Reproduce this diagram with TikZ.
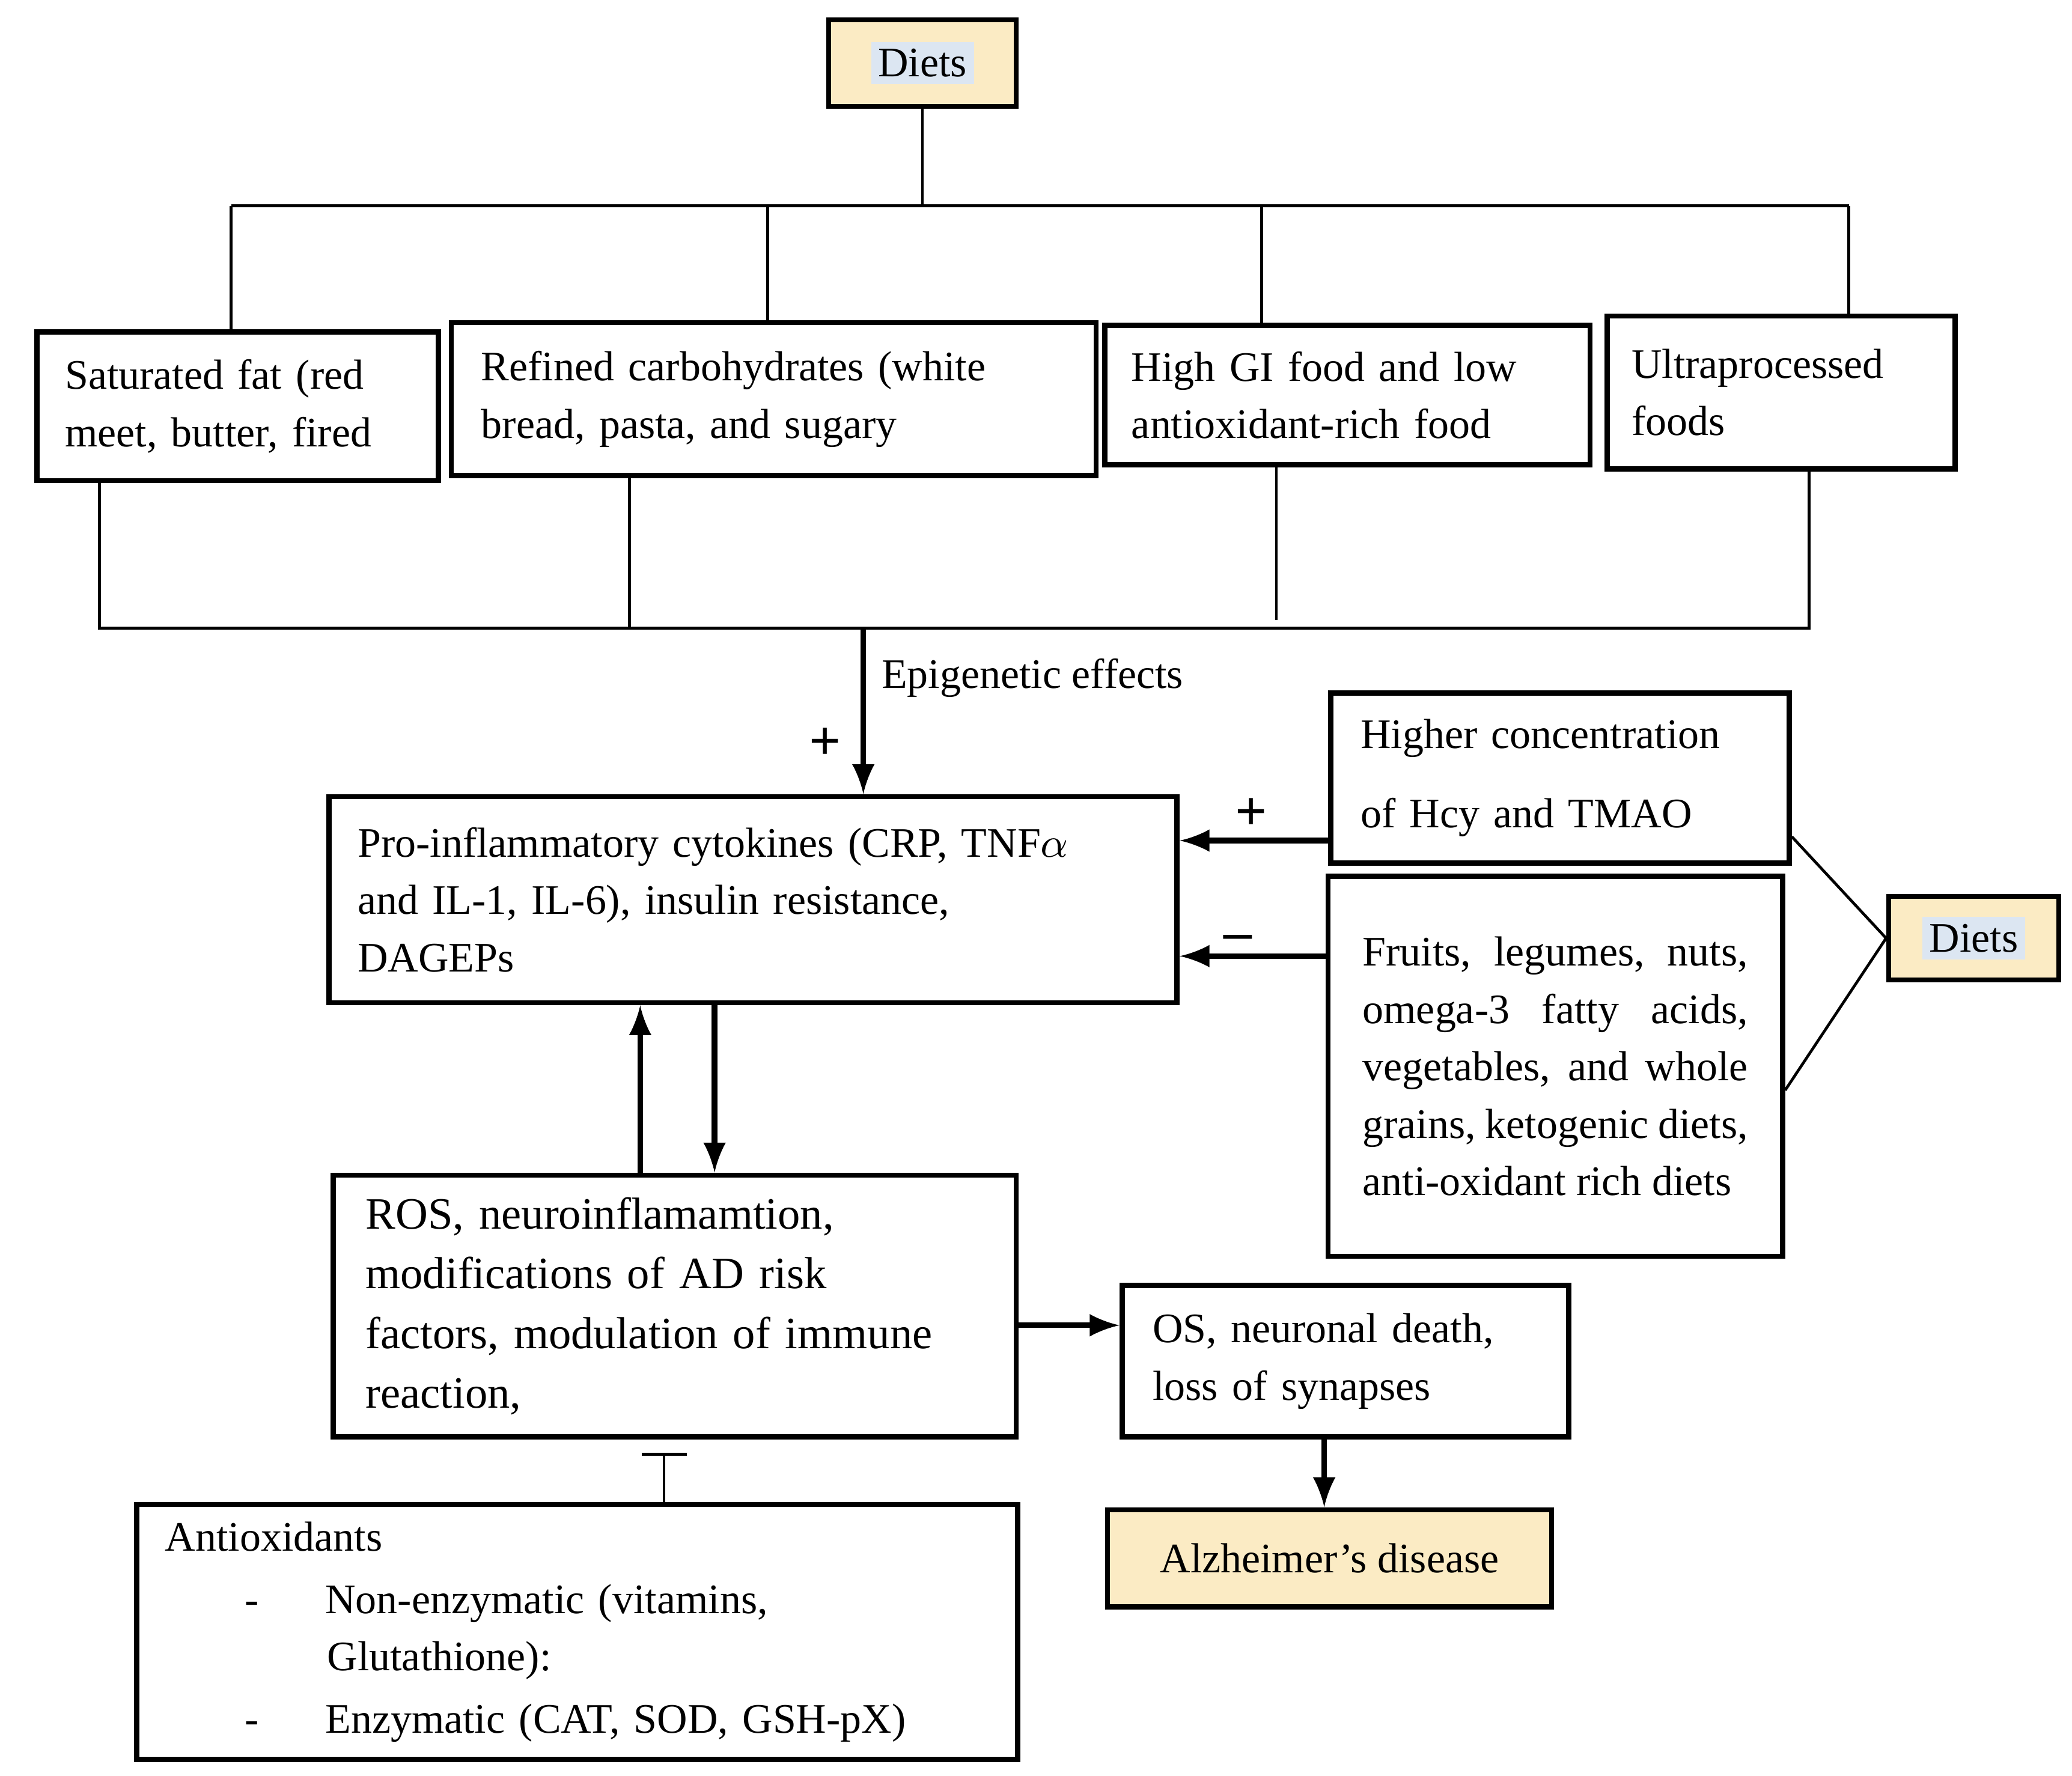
\documentclass[tikz,border=0pt]{standalone}
\usepackage{fontspec}
\setmainfont{Liberation Serif}
\usetikzlibrary{arrows}
\definecolor{dietfill}{HTML}{FBEBC4}
\definecolor{hlblue}{HTML}{DCE6F2}
\newcommand{\hl}[1]{{\setlength{\fboxsep}{1.5pt}\colorbox{hlblue}{#1}}}

\begin{document}
\begin{tikzpicture}[x=0.01cm,y=-0.01cm,
  box/.style={draw,line width=1.1pt,inner sep=0pt,align=left,font=\fontsize{9}{12.3}\selectfont},
  diet/.style={box,fill=dietfill,align=center},
  bus/.style={line width=0.6pt},
  arr/.style={line width=1.2pt,-latex}]
\useasboundingbox (0,0) rectangle (1560,1337);

% top part
\node[diet,minimum width=1.41cm,minimum height=0.65cm] (diets) at (694.5,47.5) {\hl{Diets}};
\node[box,minimum width=3.02cm,minimum height=1.12cm,text width=2.6cm] (sat) at (179,306) {Saturated fat (red\\meet, butter, fired};
\node[box,minimum width=4.85cm,minimum height=1.15cm,text width=4.4cm] (ref) at (582.5,300.5) {Refined carbohydrates (white\\bread, pasta, and sugary\\[3pt]};
\node[box,minimum width=3.65cm,minimum height=1.05cm,text width=3.25cm] (hgi) at (1014.5,297.5) {High GI food and low\\antioxidant-rich food};
\node[box,minimum width=2.62cm,minimum height=1.15cm,text width=2.25cm] (ultra) at (1341,295.5) {Ultraprocessed\\foods\\[3pt]};

\coordinate (tl) at (174,155);
\coordinate (tr) at (1392,155);
\draw[bus] (diets.south) -- (diets.south |- tl);
\draw[bus] (tl) -- (tr);
\draw[bus] (tl) -- (tl |- sat.north);
\draw[bus] ([xshift=-0.045cm]ref.north) -- ([xshift=-0.045cm]ref.north |- tl);
\draw[bus] ([xshift=-0.645cm]hgi.north) -- ([xshift=-0.645cm]hgi.north |- tl);
\draw[bus] (tr) -- (tr |- ultra.north);

\coordinate (bl) at (75,473);
\coordinate (br) at (1362,473);
\coordinate (epi) at (650,473);
\draw[bus] (bl |- sat.south) -- (bl) -- (br) -- (br |- ultra.south);
\draw[bus] ([xshift=-1.085cm]ref.south) -- ([xshift=-1.085cm]ref.south |- bl);
\draw[bus] ([xshift=-0.535cm]hgi.south) -- ([xshift=-0.535cm,yshift=0.06cm]hgi.south |- bl);

% middle part
\node[box,minimum width=6.38cm,minimum height=1.55cm,text width=5.95cm] (pro) at (567,677.5) {Pro-inflammatory cytokines (CRP, TNF$\alpha$\\and IL-1, IL-6), insulin resistance,\\DAGEPs};
\node[box,minimum width=3.45cm,minimum height=1.28cm,text width=3.0cm,font=\fontsize{9}{17}\selectfont] (hcy) at (1174.5,586) {Higher concentration\\of Hcy and TMAO};
\node[box,minimum width=3.42cm,minimum height=2.86cm,text width=2.9cm,align=justify] (fru) at (1171,803) {Fruits, legumes, nuts, omega-3 fatty acids, vegetables, and whole grains, ketogenic diets, anti-oxidant rich diets};
\node[diet,minimum width=1.28cm,minimum height=0.63cm] (dietsR) at (1486,706.5) {\hl{Diets}};

\draw[arr] (epi) -- (epi |- pro.north) node[pos=0.3,right,font=\fontsize{9}{12}\selectfont] {Epigenetic effects};
\node[font=\bfseries\large] (plus1) at (621,560) {+};
\draw[arr] (hcy.west |- 0,633) -- (pro.east |- 0,633);
\node[font=\bfseries\large] (plus2) at (942,613) {+};
\draw[arr] (fru.west |- 0,720) -- (pro.east |- 0,720);
\node[font=\bfseries\large] (minus) at (932,710) {--};
\draw[bus] ([yshift=-0.44cm]hcy.east) -- (dietsR.west);
\draw[bus] ([yshift=-0.18cm]fru.east) -- (dietsR.west);

% lower part
\node[box,minimum width=5.14cm,minimum height=1.97cm,text width=4.65cm,font=\fontsize{9.6}{12.8}\selectfont] (ros) at (508,983.5) {ROS, neuroinflamamtion,\\modifications of AD risk\\factors, modulation of immune\\reaction,};
\node[box,minimum width=3.36cm,minimum height=1.14cm,text width=2.9cm] (os) at (1013,1025) {OS, neuronal death,\\loss of synapses};
\node[diet,minimum width=3.34cm,minimum height=0.73cm] (ad) at (1001,1173.5) {Alzheimer's disease};
\node[box,minimum width=6.63cm,minimum height=1.92cm,text width=6.2cm] (anti) at (434.5,1229) {Antioxidants\\[1pt]
\hspace*{0.6cm}-\hspace{0.5cm}Non-enzymatic (vitamins,\\
\hspace*{1.22cm}Glutathione):\\[1pt]
\hspace*{0.6cm}-\hspace{0.5cm}Enzymatic (CAT, SOD, GSH-pX)};

\draw[arr] (ros.north -| 482,0) -- (pro.south -| 482,0);
\draw[arr] (pro.south -| 538,0) -- (ros.north -| 538,0);
\draw[arr] (ros.east |- 0,998) -- (os.west |- 0,998);
\draw[arr] (os.south -| 997,0) -- (ad.north -| 997,0);
\coordinate (tbar) at (500,1095);
\draw[bus] (anti.north -| tbar) -- (tbar);
\draw[bus] ([xshift=-0.17cm]tbar) -- ([xshift=0.17cm]tbar);
\end{tikzpicture}
\end{document}
